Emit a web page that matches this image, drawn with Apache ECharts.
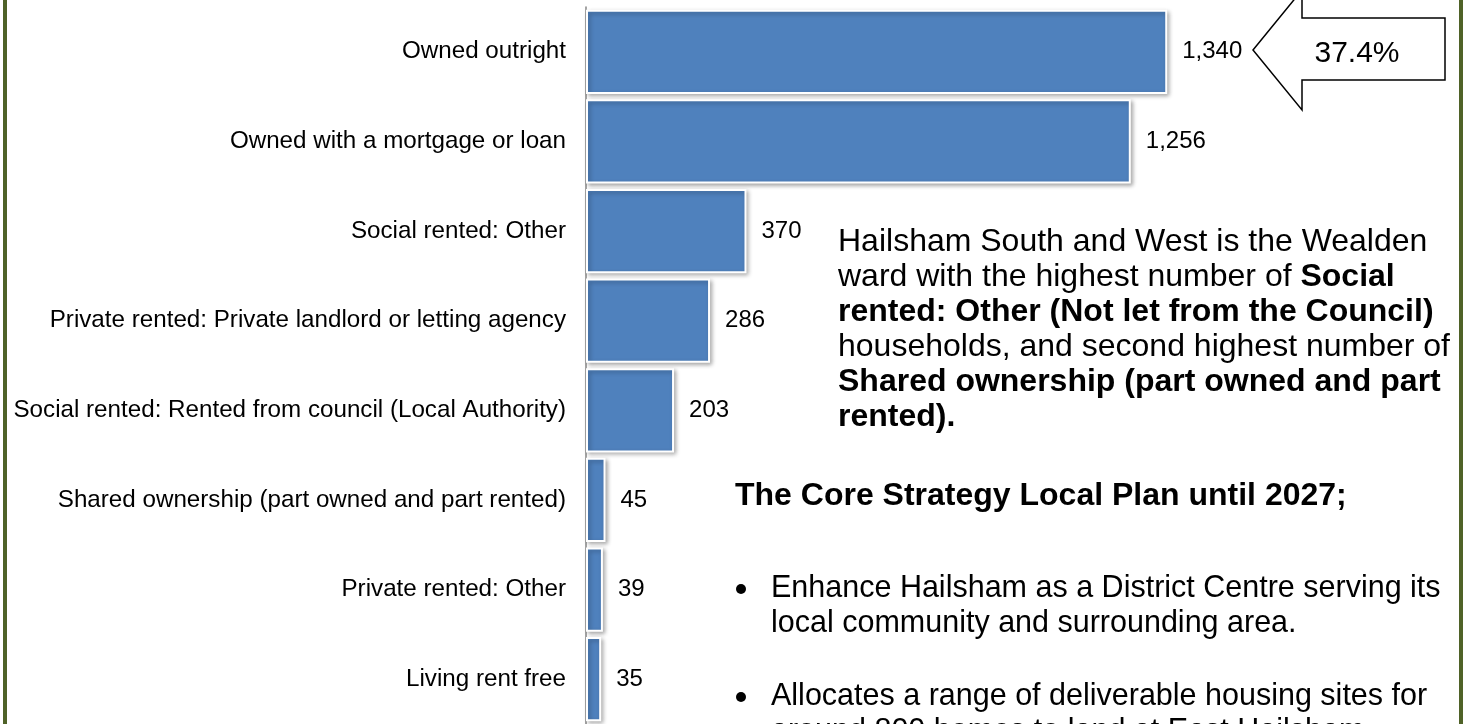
<!DOCTYPE html>
<html>
<head>
<meta charset="utf-8">
<title>Tenure</title>
<script src="https://cdn.jsdelivr.net/npm/echarts@6/dist/echarts.min.js"></script>
<style>
html, body { margin: 0; padding: 0; background: #fff; }
#box { width: 1470px; height: 724px; }
</style>
</head>
<body>
<div id="box"></div>
<script>
// tenure categories, top to bottom
var categories = [
  'Owned outright',
  'Owned with a mortgage or loan',
  'Social rented: Other',
  'Private rented: Private landlord or letting agency',
  'Social rented: Rented from council (Local Authority)',
  'Shared ownership (part owned and part rented)',
  'Private rented: Other',
  'Living rent free'
];
var households = [1340, 1256, 370, 286, 203, 45, 39, 35];
var calloutText = '37.4%';

var font = "'Liberation Sans', Arial, sans-serif";
var green = '#4F6228';

var dom = echarts.init(document.getElementById('box'));
var option = {
  backgroundColor: '#fff',
  animation: false,
  grid: {
    left: 586,
    right: 190,
    top: 7,
    height: 720
  },
  xAxis: {
    type: 'value',
    min: 0,
    max: 1600,
    show: false
  },
  yAxis: {
    type: 'category',
    inverse: true,
    data: categories,
    axisLine: { lineStyle: { color: '#868686', width: 1.5 } },
    axisTick: { length: 7, lineStyle: { color: '#868686', width: 1.5 } },
    axisLabel: {
      margin: 20,
      color: '#000',
      fontSize: 24.2,
      fontFamily: font
    }
  },
  series: [
    {
      type: 'bar',
      data: households,
      barCategoryGap: '6%',
      itemStyle: {
        color: '#4F81BD',
        borderColor: '#fff',
        borderWidth: 2,
        shadowColor: 'rgba(0, 0, 0, 0.3)',
        shadowBlur: 4,
        shadowOffsetX: 2,
        shadowOffsetY: 2
      },
      label: {
        show: true,
        position: 'right',
        distance: 15,
        color: '#000',
        fontSize: 24,
        fontFamily: font,
        formatter: function (p) { return p.value.toLocaleString('en-US'); }
      }
    }
  ],
  graphic: [
    // page border lines
    { type: 'rect', left: 3, top: 0, shape: { width: 4, height: 724 }, style: { fill: green } },
    { type: 'rect', left: 1459, top: 0, shape: { width: 4, height: 724 }, style: { fill: green } },
    // arrow callout
    {
      type: 'polygon',
      shape: { points: [[1253, 50], [1302, -10], [1302, 18], [1445, 18], [1445, 80], [1302, 80], [1302, 110]] },
      style: { fill: '#fff', stroke: '#000', lineWidth: 1.5 }
    },
    {
      type: 'text', x: 1357, y: 54,
      style: { text: calloutText, fill: '#000', font: '30px ' + font, align: 'center', verticalAlign: 'middle' }
    },
    // commentary
    {
      type: 'text', x: 838, y: 225,
      style: {
        text: 'Hailsham South and West is the Wealden\nward with the highest number of {b|Social}\n{b|rented: Other (Not let from the Council)}\nhouseholds, and second highest number of\n{b|Shared ownership (part owned and part}\n{b|rented).}',
        fill: '#000',
        fontSize: 32,
        fontFamily: font,
        lineHeight: 35,
        rich: { b: { fontSize: 32, fontFamily: font, fontWeight: 'bold', lineHeight: 35 } }
      }
    },
    {
      type: 'text', x: 735, y: 479,
      style: { text: 'The Core Strategy Local Plan until 2027;', fill: '#000', fontSize: 32, fontWeight: 'bold', fontFamily: font, lineHeight: 35 }
    },
    // bullets
    { type: 'circle', shape: { cx: 741, cy: 589, r: 5 }, style: { fill: '#000' } },
    { type: 'circle', shape: { cx: 741, cy: 697, r: 5 }, style: { fill: '#000' } },
    {
      type: 'text', x: 771, y: 571,
      style: { text: 'Enhance Hailsham as a District Centre serving its\nlocal community and surrounding area.', fill: '#000', fontSize: 30.5, fontFamily: font, lineHeight: 35 }
    },
    {
      type: 'text', x: 771, y: 679,
      style: { text: 'Allocates a range of deliverable housing sites for\naround 800 homes to land at East Hailsham', fill: '#000', fontSize: 30.5, fontFamily: font, lineHeight: 35 }
    }
  ]
};
dom.setOption(option);
window.addEventListener('resize', function () {
  dom.resize();
});
</script>
</body>
</html>
